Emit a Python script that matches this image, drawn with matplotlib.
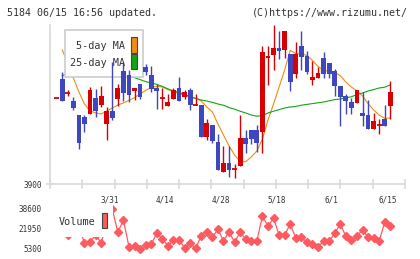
import numpy as np
import matplotlib
matplotlib.use('Agg')
import matplotlib.pyplot as plt
from matplotlib.patches import Rectangle

# daily prices, 3/16 .. 6/15
opens = [4330, 4425, 4355, 4315, 4245, 4235, 4250, 4330, 4295, 4200,
         4265, 4325, 4465, 4445, 4365, 4400, 4485, 4445, 4380, 4330,
         4292, 4325, 4380, 4335, 4370, 4295, 4295, 4135, 4195, 4110,
         3960, 4005, 3975, 3990, 4130, 4170, 4170, 4160, 4530, 4545,
         4580, 4568, 4550, 4450, 4590, 4540, 4420, 4430, 4530, 4505,
         4465, 4390, 4340, 4310, 4305, 4255, 4245, 4175, 4195, 4225, 4290]
highs = [4330, 4460, 4370, 4335, 4245, 4245, 4385, 4375, 4390, 4285,
         4510, 4400, 4510, 4470, 4380, 4400, 4500, 4490, 4400, 4380,
         4350, 4380, 4435, 4370, 4380, 4350, 4295, 4225, 4195, 4150,
         4090, 4090, 4000, 4245, 4170, 4170, 4195, 4590, 4590, 4695,
         4665, 4665, 4550, 4610, 4665, 4565, 4515, 4485, 4560, 4505,
         4475, 4390, 4350, 4330, 4370, 4360, 4320, 4255, 4225, 4295, 4415]
lows = [4330, 4315, 4340, 4270, 4075, 4160, 4250, 4235, 4285, 4120,
        4220, 4290, 4315, 4310, 4320, 4325, 4445, 4360, 4275, 4275,
        4292, 4325, 4315, 4325, 4270, 4295, 4135, 4120, 4105, 3970,
        3960, 3935, 3930, 3990, 4055, 4100, 4060, 4055, 4395, 4470,
        4525, 4528, 4365, 4430, 4470, 4450, 4395, 4430, 4430, 4430,
        4340, 4190, 4250, 4250, 4305, 4190, 4175, 4175, 4150, 4190, 4225]
closes = [4330, 4315, 4355, 4280, 4105, 4200, 4370, 4265, 4340, 4265,
          4230, 4380, 4355, 4345, 4380, 4335, 4460, 4375, 4365, 4330,
          4310, 4370, 4315, 4360, 4295, 4295, 4135, 4205, 4115, 3970,
          4005, 3970, 3975, 4130, 4100, 4125, 4105, 4560, 4540, 4580,
          4565, 4665, 4410, 4550, 4535, 4460, 4435, 4455, 4450, 4450,
          4390, 4335, 4315, 4280, 4370, 4240, 4175, 4215, 4195, 4190, 4360]

ma5 = [np.nan, 4570, 4505, 4430, 4360, 4300, 4265, 4256, 4250, 4265,
       4280, 4295, 4305, 4318, 4332, 4350, 4368, 4382, 4388, 4385,
       4372, 4362, 4352, 4342, 4332, 4328, 4315, 4285, 4260, 4200,
       4145, 4090, 4045, 4012, 4012, 4035, 4065, 4125, 4220, 4300,
       4385, 4470, 4568, 4552, 4552, 4542, 4518, 4488, 4468, 4464,
       4458, 4442, 4410, 4385, 4365, 4340, 4302, 4270, 4245, 4228, 4230]
ma25 = [np.nan, 4440, 4455, 4458, 4458, 4455, 4455, 4452, 4450, 4448,
        4445, 4442, 4440, 4438, 4432, 4422, 4412, 4405, 4398, 4388,
        4376, 4365, 4358, 4348, 4338, 4328, 4320, 4315, 4308, 4300,
        4294, 4282, 4274, 4264, 4255, 4245, 4239, 4242, 4255, 4264,
        4272, 4280, 4285, 4288, 4294, 4298, 4302, 4306, 4310, 4316,
        4322, 4325, 4331, 4336, 4348, 4355, 4365, 4372, 4380, 4384, 4396]

volume = [25280, 27780, 16960, 22780, 24450, 10050, 11380, 16540, 10710, 26110,
          38600, 19200, 29440, 7220, 8050, 5300, 8380, 9210, 18370, 13630,
          8050, 12790, 12790, 6380, 10050, 5880, 16120, 19700, 15040, 21700,
          12210, 19450, 11130, 19200, 13380, 11960, 11960, 32770, 24200, 30860,
          16960, 16960, 26110, 14210, 15040, 10880, 9630, 7220, 11710, 11710,
          18370, 26110, 15870, 12540, 15870, 21370, 15040, 14710, 11710, 27780, 24610]

date_pos = [10, 20, 30, 40, 50, 60]
date_labels = ['3/31', '4/14', '4/28', '5/18', '6/1', '6/15']
vol_ticks = [5300, 21950, 38600]

RED = '#d80000'
BLUE = '#3f47bf'
ORANGE = '#f08c14'
GREEN = '#12a512'
VOLC = '#ff5a5f'
GRID = '#d9d9d9'
TXT = '#333333'
MONO = 'DejaVu Sans Mono'

fig = plt.figure(figsize=(4.2, 2.59), dpi=100)
W, H = 420, 259
xl, xr = 50, 405


def axes_box(top, bottom):
    return [xl / W, (H - bottom) / H, (xr - xl) / W, (bottom - top) / H]


ax = fig.add_axes(axes_box(25, 184))
vax = fig.add_axes(axes_box(205, 253))

x = np.arange(len(opens))
xmin, xmax = -1.2, 62.64

# moving averages under the legend box
ax.plot(x, ma5, color=ORANGE, lw=0.8, zorder=2)
ax.plot(x, ma25, color=GREEN, lw=0.8, zorder=2)

ax.add_patch(Rectangle((0.0423, 0.671), 0.2205, 0.2976, transform=ax.transAxes,
                       facecolor='white', edgecolor='#cccccc', lw=1.2, zorder=3))
ax.text(0.2113, 0.868, '5-day MA', transform=ax.transAxes, ha='right', va='center',
        fontsize=7.3, family=MONO, color=TXT, zorder=5)
ax.text(0.2113, 0.763, '25-day MA', transform=ax.transAxes, ha='right', va='center',
        fontsize=7.3, family=MONO, color=TXT, zorder=5)
ax.add_patch(Rectangle((0.228, 0.822), 0.0176, 0.1, transform=ax.transAxes,
                       facecolor=ORANGE, edgecolor='#444444', lw=0.8, zorder=5))
ax.add_patch(Rectangle((0.228, 0.7214), 0.0176, 0.094, transform=ax.transAxes,
                       facecolor=GREEN, edgecolor='#444444', lw=0.8, zorder=5))

# candles
for i in range(len(opens)):
    o, h, l, c = opens[i], highs[i], lows[i], closes[i]
    col = RED if c >= o else BLUE
    ax.vlines(i, l, h, color=col, lw=1.0, zorder=4)
    if c == o:
        ax.hlines(o, i - 0.45, i + 0.45, color=col, lw=1.3, zorder=4)
    else:
        ax.bar(i, abs(c - o), bottom=min(o, c), width=0.86, color=col, lw=0, zorder=4)

ax.set_xlim(xmin, xmax)
ax.set_ylim(3900, 4695)
for s in ['top', 'right']:
    ax.spines[s].set_visible(False)
for s in ['left', 'bottom']:
    ax.spines[s].set_color(GRID)
    ax.spines[s].set_linewidth(1.2)
ax.set_yticks([3900])
ax.set_yticklabels(['3900'], family=MONO, fontsize=5.5, color=TXT)
ax.tick_params(axis='y', direction='inout', length=6, width=1.1, color=GRID, pad=3)
ax.set_xticks(np.array(date_pos) - 0.5)
ax.set_xticklabels(date_labels, family=MONO, fontsize=5.5, color=TXT)
ax.tick_params(axis='x', which='major', length=0, pad=8)
ax.set_xticks(np.linspace(xmin, xmax, 12), minor=True)
ax.tick_params(axis='x', which='minor', direction='inout', length=7, width=1.1, color=GRID)

# volume (legend box hides the first points)
vax.plot(x, volume, color=VOLC, lw=0.9, marker='D', ms=3.6, mec=VOLC, mfc=VOLC,
         zorder=2, clip_on=False)
vax.add_patch(Rectangle((0.0056, 0.333), 0.1714, 0.667, transform=vax.transAxes,
                        facecolor='white', edgecolor='none', zorder=3))
vax.text(0.0254, 0.646, 'Volume', transform=vax.transAxes, ha='left', va='center',
         fontsize=7.3, family=MONO, color=TXT, zorder=5)
vax.add_patch(Rectangle((0.1456, 0.521), 0.0158, 0.312, transform=vax.transAxes,
                        facecolor=VOLC, edgecolor='#444444', lw=0.8, zorder=5))
vax.set_xlim(xmin, xmax)
vax.set_ylim(1970, 41930)
vax.set_yticks(vol_ticks)
vax.set_yticklabels([str(v) for v in vol_ticks], family=MONO, fontsize=5.5, color=TXT)
vax.tick_params(axis='y', length=0, pad=6)
vax.set_xticks([])
for s in vax.spines.values():
    s.set_visible(False)
vax.patch.set_alpha(0)

fig.text(7 / W, 1 - 13.3 / H, '5184 06/15 16:56 updated.', ha='left', va='center',
         family=MONO, fontsize=7.2, color=TXT)
fig.text(408 / W, 1 - 13.3 / H, '(C)https://www.rizumu.net/', ha='right', va='center',
         family=MONO, fontsize=7.2, color=TXT)

fig.savefig('out.png', dpi=100)
